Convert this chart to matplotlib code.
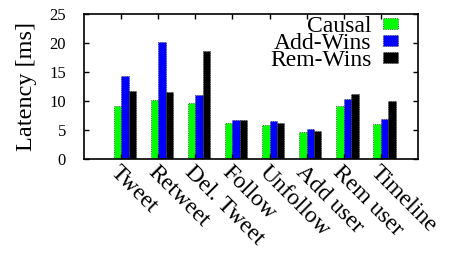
import numpy as np
import matplotlib
matplotlib.use("Agg")
import matplotlib.pyplot as plt

plt.rcParams['font.family'] = ['Liberation Serif', 'DejaVu Serif']

# values (latency in ms)
categories = ["Tweet", "Retweet", "Del. Tweet", "Follow", "Unfollow",
              "Add user", "Rem user", "Timeline"]
causal = [9.2, 10.1, 9.7, 6.2, 5.9, 4.6, 9.1, 6.1]
add_wins = [14.4, 20.1, 11.1, 6.8, 6.55, 5.2, 10.3, 6.95]
rem_wins = [11.7, 11.5, 18.6, 6.7, 6.3, 4.9, 11.3, 10.0]

series = [("Causal", causal, "#00ff00"),
          ("Add-Wins", add_wins, "#0000ff"),
          ("Rem-Wins", rem_wins, "#000000")]
offsets = [-0.1, 0.1, 0.3]
width = 0.2

fig = plt.figure(figsize=(4.55, 2.57), dpi=100)
ax = fig.add_axes([0.1846, 0.381, 0.734, 0.5645])

x = np.arange(1, len(categories) + 1)
for (name, vals, col), off in zip(series, offsets):
    ax.bar(x + off, vals, width, color=col, edgecolor="#333333",
           linewidth=0.6, linestyle=":", label=name)

ax.set_xlim(0, 9)
ax.set_ylim(0, 25)
ax.set_yticks([0, 5, 10, 15, 20, 25])
ax.set_xticks(x)
ax.set_xticklabels(categories, rotation=-45, ha="left", va="top",
                   rotation_mode="anchor", fontsize=17)
ax.tick_params(axis="both", direction="in", length=3.5, top=True, right=True,
               width=1)
ax.tick_params(axis="x", pad=2)
ax.tick_params(axis="y", labelsize=12, pad=13, labelright=False)
for s in ax.spines.values():
    s.set_linewidth(1.2)

ax.set_ylabel("Latency [ms]", fontsize=17.5, labelpad=9)

ax.legend(loc="upper right", bbox_to_anchor=(0.94, 0.985),
          markerfirst=False, frameon=False, fontsize=17,
          handlelength=0.65, handleheight=0.34, labelspacing=-0.18,
          handletextpad=0.47, borderaxespad=0, borderpad=0)

fig.savefig("out.png", dpi=100)
